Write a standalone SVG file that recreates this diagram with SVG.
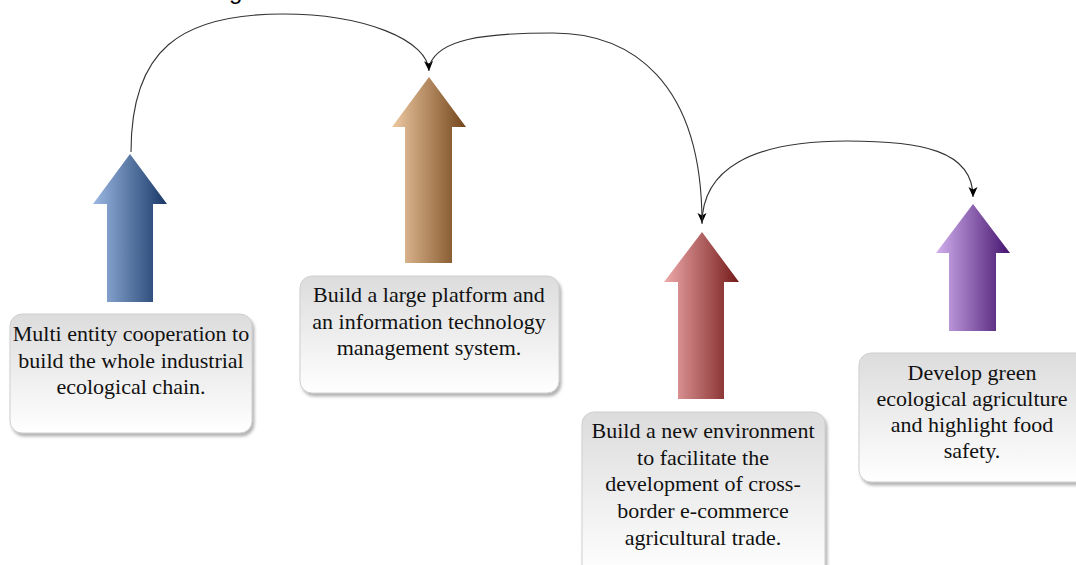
<svg xmlns="http://www.w3.org/2000/svg" width="1076" height="565" viewBox="0 0 1076 565">
  <style>
    .box { stroke: #cfcfcf; stroke-width: 1; fill: url(#boxGrad); filter: url(#shadow); }
    .lbl { font-size: 22px; fill: #111; text-anchor: middle; }
    .conn { fill: none; stroke: #333; stroke-width: 1.1; marker-end: url(#head); }
    .cap { font-size: 24px; fill: #000; }
  </style>
  <defs>
    <linearGradient id="boxGrad" x1="0" y1="0" x2="0" y2="1">
      <stop offset="0" stop-color="#dcdcdc"/>
      <stop offset="1" stop-color="#ffffff"/>
    </linearGradient>
    <linearGradient id="gBlue" x1="0" y1="0" x2="1" y2="0">
      <stop offset="0" stop-color="#9ab8e2"/>
      <stop offset="1" stop-color="#1a3866"/>
    </linearGradient>
    <linearGradient id="gBrown" x1="0" y1="0" x2="1" y2="0">
      <stop offset="0" stop-color="#edc9a2"/>
      <stop offset="1" stop-color="#74461c"/>
    </linearGradient>
    <linearGradient id="gRed" x1="0" y1="0" x2="1" y2="0">
      <stop offset="0" stop-color="#eeaaaa"/>
      <stop offset="1" stop-color="#751a1a"/>
    </linearGradient>
    <linearGradient id="gPurple" x1="0" y1="0" x2="1" y2="0">
      <stop offset="0" stop-color="#d2b0ee"/>
      <stop offset="1" stop-color="#45146f"/>
    </linearGradient>
    <filter id="shadow" x="-10%" y="-10%" width="125%" height="130%">
      <feDropShadow dx="2" dy="3" stdDeviation="1.5" flood-color="#808080" flood-opacity="0.6"/>
    </filter>
    <marker id="head" markerUnits="userSpaceOnUse" markerWidth="12" markerHeight="10" refX="10" refY="4.5" orient="auto">
      <path d="M0,0 L10,4.5 L0,9 L2.5,4.5 z" fill="#000"/>
    </marker>
  </defs>

  <text class="cap" font-family="'Liberation Sans', Arial, sans-serif" x="229" y="-1">g</text>

  <g id="connectors">
    <path class="conn" d="M131,152 C131,50 180,14 283,14 A146,58 0 0 1 429,71"/>
    <path class="conn" d="M430,64 C440,40 480,33 553,33 C630,33 702,80 702,223"/>
    <path class="conn" d="M702,224 C702,170 750,141 847,141 C920,141 973,150 973,197"/>
  </g>

  <g font-family="'Liberation Serif', 'Times New Roman', 'DejaVu Serif', serif">
  <g id="node1">
    <polygon points="130,154 167,204 153,204 153,302 107,302 107,204 93,204" fill="url(#gBlue)"/>
    <rect class="box" x="10" y="314" width="242" height="119" rx="12"/>
    <text class="lbl" x="131" y="341">Multi entity cooperation to</text>
    <text class="lbl" x="131" y="367.5">build the whole industrial</text>
    <text class="lbl" x="131" y="394">ecological chain.</text>
  </g>

  <g id="node2">
    <polygon points="429,77 466,127 452,127 452,263 405,263 405,127 392,127" fill="url(#gBrown)"/>
    <rect class="box" x="300" y="276" width="259" height="117" rx="12"/>
    <text class="lbl" x="429" y="302">Build a large platform and</text>
    <text class="lbl" x="429" y="328.5">an information technology</text>
    <text class="lbl" x="429" y="355">management system.</text>
  </g>

  <g id="node3">
    <polygon points="702,232 739,282 724,282 724,399 678,399 678,282 664,282" fill="url(#gRed)"/>
    <rect class="box" x="582" y="412" width="243" height="165" rx="12"/>
    <text class="lbl" x="703" y="438">Build a new environment</text>
    <text class="lbl" x="703" y="464.7">to facilitate the</text>
    <text class="lbl" x="703" y="491.4">development of cross-</text>
    <text class="lbl" x="703" y="518.1">border e-commerce</text>
    <text class="lbl" x="703" y="544.8">agricultural trade.</text>
  </g>

  <g id="node4">
    <polygon points="973,204 1010,253 996,253 996,331 949,331 949,253 936,253" fill="url(#gPurple)"/>
    <rect class="box" x="859" y="353" width="235" height="129" rx="12"/>
    <text class="lbl" x="972" y="380">Develop green</text>
    <text class="lbl" x="972" y="406">ecological agriculture</text>
    <text class="lbl" x="972" y="432">and highlight food</text>
    <text class="lbl" x="972" y="458">safety.</text>
  </g>
  </g>
</svg>
